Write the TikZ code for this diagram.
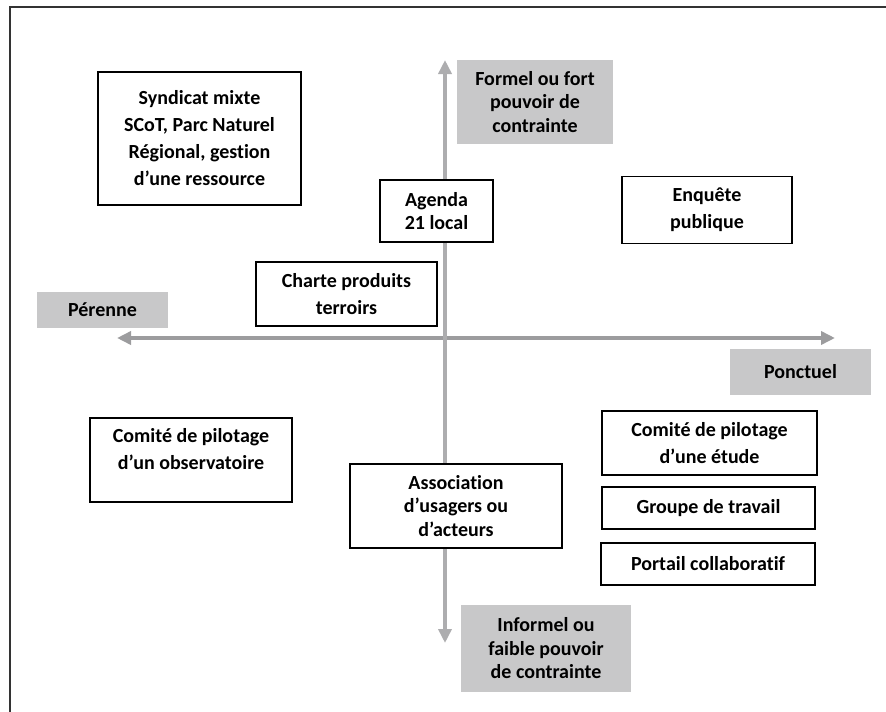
\documentclass[tikz,border=0pt]{standalone}
\usepackage{fontspec}
\setmainfont{Carlito}[Ligatures={NoCommon}]
\usetikzlibrary{arrows.meta}
\definecolor{tagfill}{HTML}{C8C8C9}
\definecolor{axisv}{HTML}{ADADAF}
\definecolor{axish}{HTML}{9C9C9E}
\tikzset{
	box/.style = {draw, line width=1.4pt, fill=white, align=center, inner sep=0pt, font=\fontsize{20}{27}\selectfont\bfseries},
	tag/.style = {fill=tagfill, align=center, inner sep=0pt, font=\fontsize{20}{23.5}\selectfont\bfseries},
	tight/.style = {font=\fontsize{20}{23.5}\selectfont\bfseries},
	axis/.style = {line width=4pt, {Triangle[width=13pt,length=14pt]}-{Triangle[width=13pt,length=14pt]}}
}

\begin{document}
\begin{tikzpicture}[x=1pt, y=-1pt]
	\useasboundingbox (0,0) rectangle (886,712);
	\draw[line width=1.6pt, black!80] (9,7) -- (886,7);
	\draw[line width=1.6pt, black!80] (10,7) -- (10,712);

	\coordinate (W) at (117,338);
	\coordinate (E) at (835,338);
	\coordinate (N) at (445,60);
	\coordinate (S) at (445,643);
	\draw[axis, axish] (W) -- (E);
	\draw[axis, axisv] (N) -- (S);

	\node[tag, minimum width=131, minimum height=36] (perenne) at (102.5,310) {Pérenne};
	\node[tag, minimum width=141, minimum height=46] (ponctuel) at (800.5,372) {Ponctuel};
	\node[tag, minimum width=156, minimum height=84] (formel) at (535,102) {Formel ou fort\\pouvoir de\\contrainte};
	\node[tag, minimum width=170, minimum height=87] (informel) at (546,648.5) {Informel ou\\faible pouvoir\\de contrainte};

	\node[box, minimum width=203, minimum height=133] (syndicat) at (199.5,138.5) {Syndicat mixte\\SCoT, Parc Naturel\\Régional, gestion\\d’une ressource};
	\node[box, tight, minimum width=113, minimum height=62] (agenda) at (436.5,211) {Agenda\\21 local};
	\node[box, minimum width=181, minimum height=64] (charte) at (346.5,294) {Charte produits\\terroirs};
	\node[box, minimum width=170, minimum height=67] (enquete) at (707,210) {Enquête\\publique};
	\node[box, minimum width=202, minimum height=84] (observ) at (191,460) {Comité de pilotage\\d’un observatoire\\[-4pt]\mbox{}};
	\node[box, tight, minimum width=212, minimum height=84] (asso) at (456,506) {Association\\d’usagers ou\\d’acteurs};
	\node[box, minimum width=215, minimum height=64] (etude) at (709.5,443) {Comité de pilotage\\d’une étude};
	\node[box, minimum width=213, minimum height=42] (groupe) at (708.5,508) {Groupe de travail};
	\node[box, minimum width=214, minimum height=42] (portail) at (708,564) {Portail collaboratif};
\end{tikzpicture}
\end{document}
